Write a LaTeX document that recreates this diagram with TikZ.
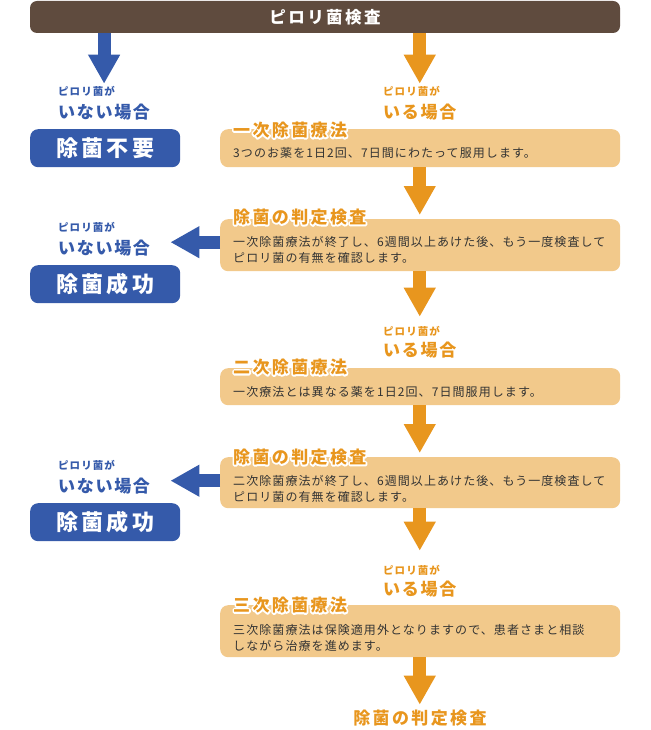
\documentclass[tikz,border=0pt]{standalone}
\usepackage{fontspec}
\usetikzlibrary{arrows.meta,positioning}

\setmainfont{Noto Sans CJK JP}
\newfontfamily\bodyfont[LetterSpace=9]{Noto Sans CJK JP}
\newfontfamily\headfont[LetterSpace=14]{Noto Sans CJK JP}
\newfontfamily\labfont[LetterSpace=10]{Noto Sans CJK JP}
\newfontfamily\bigfont[LetterSpace=15]{Noto Sans CJK JP}

\definecolor{barbrown}{HTML}{5F4B3E}
\definecolor{pyblue}{HTML}{355AAA}
\definecolor{pyorange}{HTML}{E8961E}
\definecolor{boxtan}{HTML}{F2C98B}
\definecolor{bodygray}{HTML}{333333}

% title with a white outline (stroked copy underneath)
\newcommand{\ttl}[1]{\rlap{\color{white}\special{pdf:literal direct 2 Tr 3.4 w 1 j}#1\special{pdf:literal direct 0 Tr 0.4 w 0 j}}#1}

\begin{document}
\begin{tikzpicture}[x=1pt, y=-1pt,
  stepbox/.style={fill=boxtan, rounded corners=8pt, minimum width=400pt, anchor=north west, inner sep=0pt},
  resultbox/.style={fill=pyblue, rounded corners=8pt, minimum width=150pt, minimum height=38pt, anchor=north west, text=white, font=\bigfont\fontsize{22}{24}\selectfont\bfseries},
  steptitle/.style={anchor=west, text=pyorange, inner sep=0pt, font=\headfont\fontsize{17}{20}\selectfont\bfseries},
  body/.style={anchor=west, text=bodygray, align=left, inner sep=0pt, font=\bodyfont\fontsize{12}{16}\selectfont},
  nosmall/.style={anchor=west, text=pyblue, inner sep=2pt, font=\labfont\fontsize{10.5}{12}\selectfont\bfseries},
  nobig/.style={anchor=west, text=pyblue, inner sep=0pt, font=\labfont\fontsize{17}{20}\selectfont\bfseries},
  yessmall/.style={nosmall, text=pyorange},
  yesbig/.style={nobig, text=pyorange},
  yesarrow/.style={draw=pyorange, line width=13pt, -{Triangle[width=30pt,length=29pt]}},
  noarrow/.style={yesarrow, draw=pyblue}]

  \useasboundingbox (0,0) rectangle (650,730);

  % Top bar
  \node[fill=barbrown, rounded corners=7pt, minimum width=590pt, minimum height=32pt, text=white,
    font=\bigfont\fontsize{16.5}{20}\selectfont\bfseries] (bar) at (325,17) {ピロリ菌検査};

  % Left column
  \node[nosmall] (no1a) at (56,91) {ピロリ菌が};
  \node[nobig] (no1b) at (58,112) {いない場合};
  \node[resultbox] (ok0) at (30,129) {除菌不要};

  \node[nosmall] (no2a) at (56,227) {ピロリ菌が};
  \node[nobig] (no2b) at (58,248) {いない場合};
  \node[resultbox] (ok1) at (30,265) {除菌成功};

  \node[nosmall] (no3a) at (56,465) {ピロリ菌が};
  \node[nobig] (no3b) at (58,486) {いない場合};
  \node[resultbox] (ok2) at (30,503) {除菌成功};

  % Right column
  \node[yessmall] (yes1a) at (381,91) {ピロリ菌が};
  \node[yesbig] (yes1b) at (383,112) {いる場合};

  \node[stepbox, minimum height=38pt] (s1) at (220,129) {};
  \node[steptitle] (s1t) at ([xshift=13pt,yshift=-1pt]s1.north west) {\ttl{一次除菌療法}};
  \node[body] (s1b) at ([xshift=13pt,yshift=-4.5pt]s1.west) {3つのお薬を1日2回、7日間にわたって服用します。};

  \node[stepbox, minimum height=52pt] (s2) at (220,219) {};
  \node[steptitle] (s2t) at ([xshift=13pt,yshift=2pt]s2.north west) {\ttl{除菌の判定検査}};
  \node[body] (s2b) at ([xshift=13pt,yshift=-5pt]s2.west) {一次除菌療法が終了し、6週間以上あけた後、もう一度検査して\\ピロリ菌の有無を確認します。};

  \node[yessmall] (yes2a) at (381,331) {ピロリ菌が};
  \node[yesbig] (yes2b) at (383,350) {いる場合};

  \node[stepbox, minimum height=37pt] (s3) at (220,368) {};
  \node[steptitle] (s3t) at ([xshift=13pt,yshift=1pt]s3.north west) {\ttl{二次除菌療法}};
  \node[body] (s3b) at ([xshift=13pt,yshift=-5.5pt]s3.west) {一次療法とは異なる薬を1日2回、7日間服用します。};

  \node[stepbox, minimum height=51pt] (s4) at (220,457) {};
  \node[steptitle] (s4t) at ([xshift=13pt]s4.north west) {\ttl{除菌の判定検査}};
  \node[body] (s4b) at ([xshift=13pt,yshift=-6.5pt]s4.west) {二次除菌療法が終了し、6週間以上あけた後、もう一度検査して\\ピロリ菌の有無を確認します。};

  \node[yessmall] (yes3a) at (381,570) {ピロリ菌が};
  \node[yesbig] (yes3b) at (383,589) {いる場合};

  \node[stepbox, minimum height=52pt] (s5) at (220,605) {};
  \node[steptitle] (s5t) at ([xshift=13pt]s5.north west) {\ttl{三次除菌療法}};
  \node[body] (s5b) at ([xshift=13pt,yshift=-6.5pt]s5.west) {三次除菌療法は保険適用外となりますので、患者さまと相談\\しながら治療を進めます。};

  \node[steptitle, anchor=center] (last) at (420,718) {除菌の判定検査};

  % Arrows
  \draw[noarrow] (bar.south -| no1b) -- (no1a.north -| no1b);
  \draw[yesarrow] (bar.south -| yes1b) -- (yes1a.north -| yes1b);
  \draw[yesarrow, shorten >=4pt] (s1.south -| yes1b) -- (s2.north -| yes1b);
  \draw[yesarrow, shorten >=7pt] (s2.south -| yes1b) -- (yes2a.north -| yes1b);
  \draw[yesarrow, shorten >=4pt] (s3.south -| yes1b) -- (s4.north -| yes1b);
  \draw[yesarrow, shorten >=12pt] (s4.south -| yes1b) -- (yes3a.north -| yes1b);
  \draw[yesarrow, shorten >=5pt] (s5.south -| yes1b) -- (last.north -| yes1b);
  \draw[noarrow, shorten >=-10pt] ([yshift=3pt]s2.west) -- ([yshift=3pt]s2.west -| ok1.east);
  \draw[noarrow, shorten >=-10pt] ([yshift=2pt]s4.west) -- ([yshift=2pt]s4.west -| ok2.east);

\end{tikzpicture}
\end{document}
